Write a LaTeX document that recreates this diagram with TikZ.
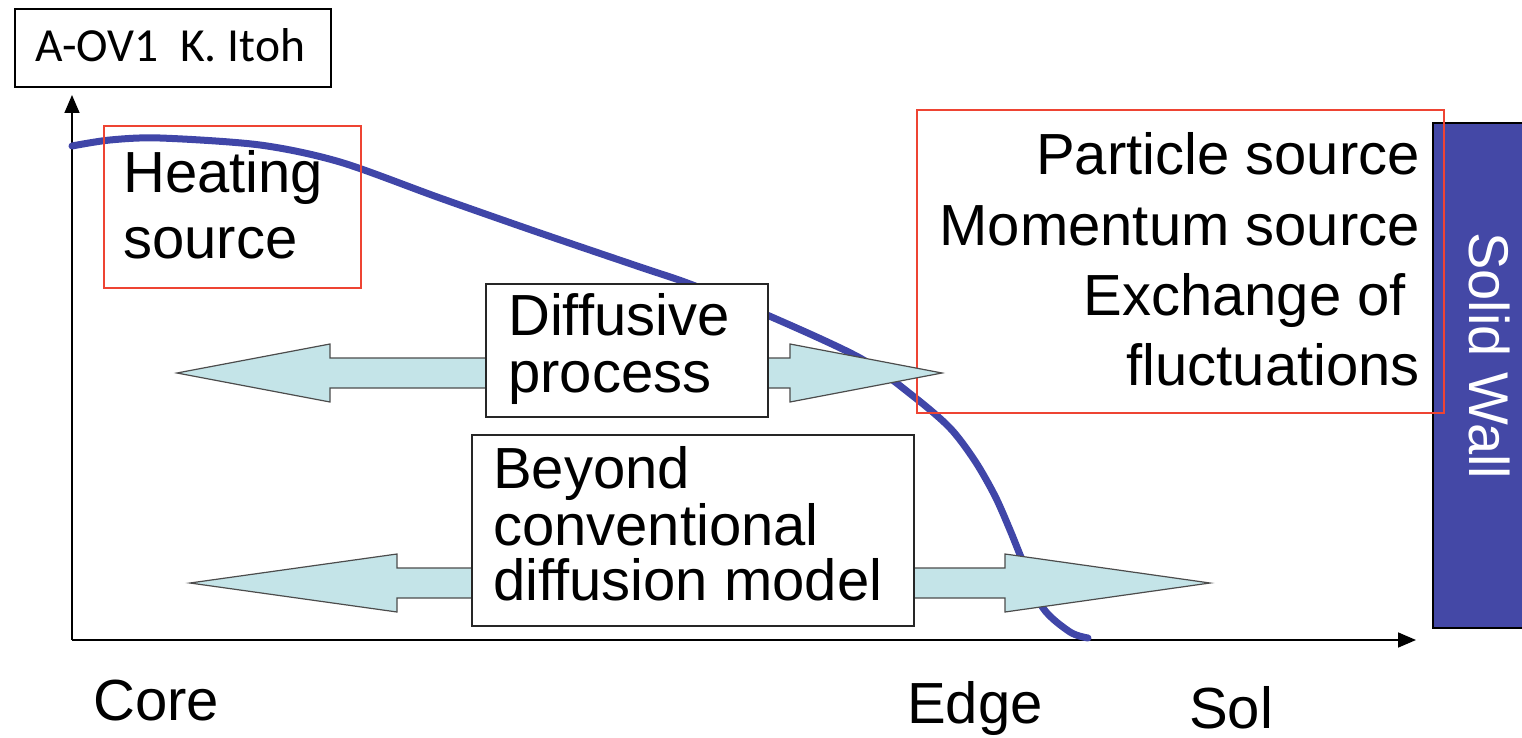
\documentclass[tikz,border=0pt]{standalone}
\usepackage{fontspec}
\setmainfont{Liberation Sans}
\newfontfamily\labelfont{Carlito}
\usetikzlibrary{arrows.meta}
\definecolor{curveblue}{HTML}{4046A8}
\definecolor{wallblue}{HTML}{4448A6}
\definecolor{boxred}{HTML}{EE4433}
\definecolor{arrowfill}{HTML}{C4E4E8}
\tikzset{
  txt/.style={inner sep=0pt, font=\fontsize{58}{60}\selectfont},
  txtL/.style={txt, anchor=base west},
  txtR/.style={txt, anchor=base east},
  redbox/.style={draw=boxred, line width=1.8pt},
  blackbox/.style={draw=black!85, line width=2pt, fill=white},
  bigarrow/.style={draw=black!70, line width=1.2pt, fill=arrowfill, line join=miter},
  axis/.style={draw=black, line width=1.6pt, -{Triangle[length=18pt,width=15pt]}},
}
\begin{document}
\begin{tikzpicture}[x=1pt,y=-1pt]
\useasboundingbox (0,0) rectangle (1522,738);

% top label
\node[draw=black, line width=2pt, minimum width=316pt, minimum height=78pt, anchor=north west, inner sep=0pt] (lbl) at (14,8) {};
\node[inner sep=0pt, anchor=base west, font=\labelfont\fontsize{47.5}{50}\selectfont] (lbltxt) at (35,62) {A-OV1~~K. Itoh};

% axes
\coordinate (O) at (72,640);
\coordinate (ytop) at (72,95);
\coordinate (xend) at (1416,640);
\draw[axis] (O) -- (ytop);
\draw[axis] (O) -- (xend);

% solid wall
\node[draw=black, line width=2pt, fill=wallblue, minimum width=92pt, minimum height=505pt, anchor=north west, inner sep=0pt] (wall) at (1432,122) {};
\node[txt, anchor=base west, rotate=-90, text=white, font=\fontsize{56}{60}\selectfont] (walltxt) at (1469,232) {Solid Wall};

% profile curve
\draw[curveblue, line width=7pt, line cap=round] plot[smooth, tension=0.5] coordinates {
 (72,146) (110,140) (160,138) (260,145) (340,162) (440,198) (540,233)
 (640,267) (690,284) (767,315) (860,358) (913,396) (950,428) (975,461)
 (995,496) (1010,530) (1023,562) (1043,608) (1070,632) (1088,638)};

% red boxes
\node[redbox, minimum width=257pt, minimum height=162pt, anchor=north west, inner sep=0pt] (heatbox) at (103,125) {};
\node[txtL] (heat1) at (123,193) {Heating};
\node[txtL] (heat2) at (123,258) {source};

\node[redbox, minimum width=527pt, minimum height=303pt, anchor=north west, inner sep=0pt] (srcbox) at (916,109) {};
\node[txtR] (src1) at (1420,175) {Particle source};
\node[txtR] (src2) at (1420,245) {Momentum source};
\node[txtR] (src3) at (1406,315) {Exchange of};
\node[txtR] (src4) at (1420,385) {fluctuations};

% double arrows
\draw[bigarrow] (177,373) -- (330,344) -- (330,358) -- (790,358) -- (790,344) -- (942,373)
  -- (790,402) -- (790,388) -- (330,388) -- (330,402) -- cycle;
\draw[bigarrow] (190,583) -- (397,554) -- (397,568) -- (1005,568) -- (1005,554) -- (1210,583)
  -- (1005,612) -- (1005,598) -- (397,598) -- (397,612) -- cycle;

% process boxes
\node[blackbox, minimum width=282pt, minimum height=133pt, anchor=north west, inner sep=0pt] (diffbox) at (485,283) {};
\node[txtL] (diff1) at (508,335) {Diffusive};
\node[txtL] (diff2) at (508,392) {process};

\node[blackbox, minimum width=442pt, minimum height=191pt, anchor=north west, inner sep=0pt] (beybox) at (471,434) {};
\node[txtL] (bey1) at (493,488) {Beyond};
\node[txtL] (bey2) at (493,545) {conventional};
\node[txtL] (bey3) at (493,600) {diffusion model};

% region labels
\node[txtL] (core) at (93,720) {Core};
\node[txtL] (edge) at (907,723) {Edge};
\node[txtL] (sol) at (1189,728) {Sol};
\end{tikzpicture}
\end{document}
